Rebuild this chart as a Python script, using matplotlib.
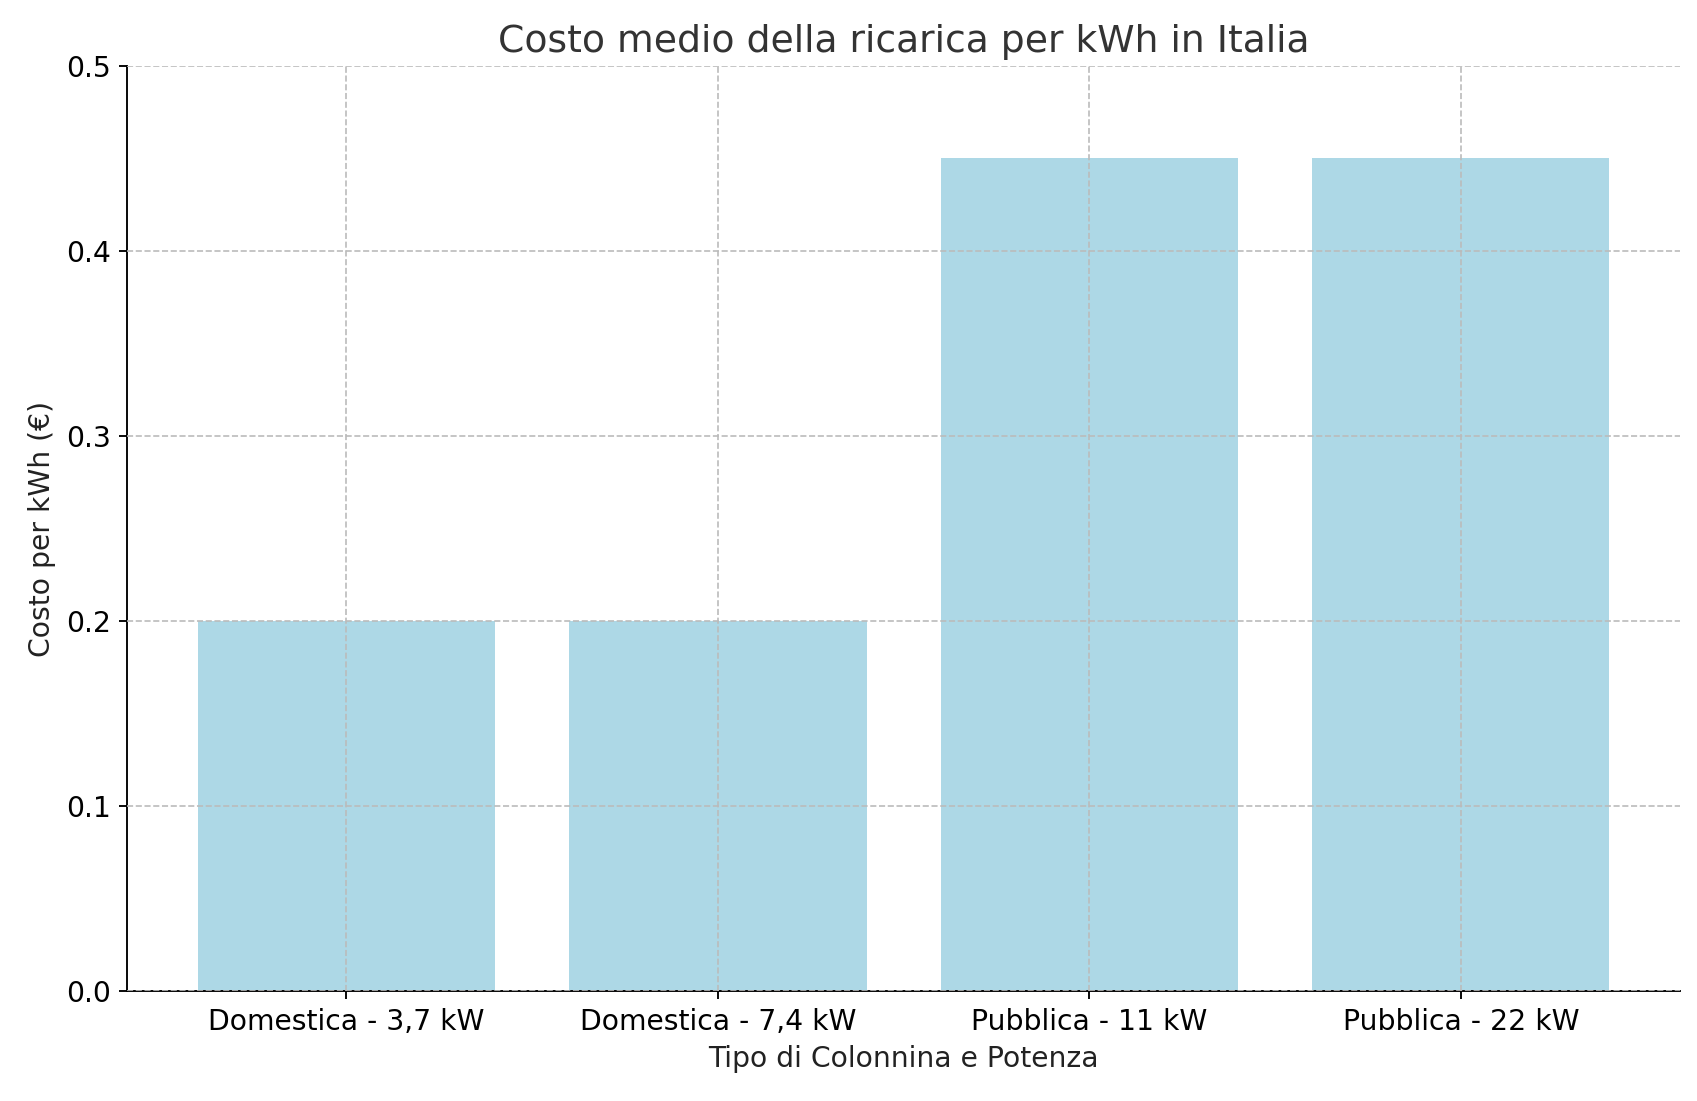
import matplotlib
matplotlib.use("Agg")
import matplotlib.pyplot as plt

categories = ["Domestica - 3,7 kW", "Domestica - 7,4 kW", "Pubblica - 11 kW", "Pubblica - 22 kW"]
costs = [0.20, 0.20, 0.45, 0.45]

fig, ax = plt.subplots(figsize=(10, 6.49), dpi=169.7)
ax.bar(categories, costs, color="lightblue", width=0.8)
ax.set_ylim(0, 0.5)
ax.set_title("Costo medio della ricarica per kWh in Italia", fontsize=16, color="#333333")
ax.set_xlabel("Tipo di Colonnina e Potenza", fontsize=12, color="#222222")
ax.set_ylabel("Costo per kWh (€)", fontsize=12, color="#222222")
ax.tick_params(labelsize=12)
ax.grid(True, linestyle="--", color="#bbbbbb", linewidth=0.7)
ax.set_axisbelow(False)
ax.spines["top"].set_visible(False)
ax.spines["right"].set_visible(False)
fig.subplots_adjust(left=0.075, right=0.99, top=0.94, bottom=0.1)
fig.savefig("out.png")
